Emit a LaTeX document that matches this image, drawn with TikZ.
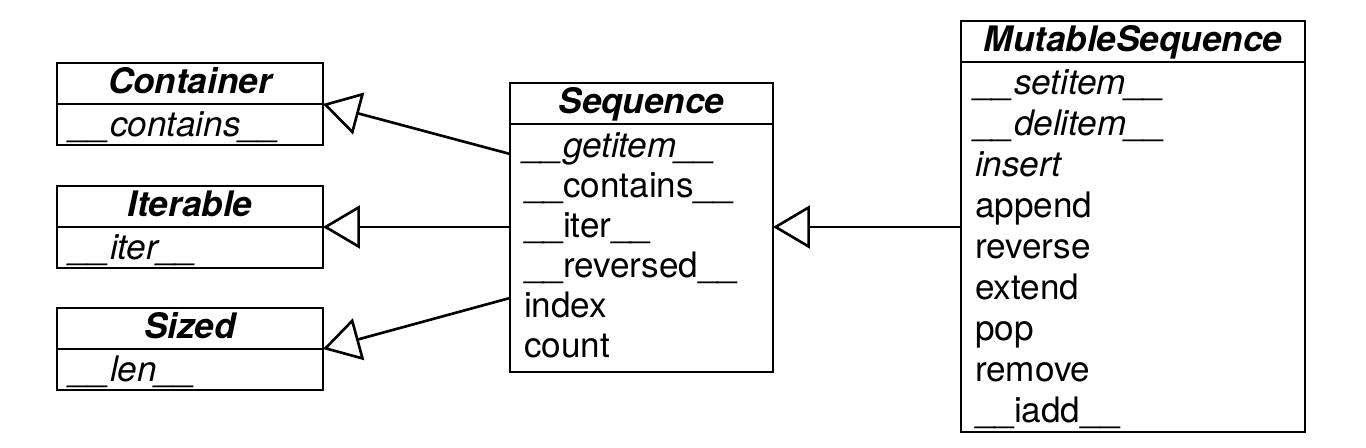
\documentclass[tikz,border=0pt]{standalone}
\usepackage{fontspec}
\setmainfont{TeX Gyre Heros}
\usetikzlibrary{arrows.meta,positioning,calc}

\begin{document}
\begin{tikzpicture}[x=0.02cm,y=-0.02cm,line width=1.4pt,
  title/.style={draw=black,anchor=north west,inner sep=0pt,outer sep=0pt,text height=0.62cm,text depth=0.2cm,
    font=\bfseries\itshape\fontsize{20pt}{24pt}\selectfont},
  body/.style={draw=black,anchor=north west,inner xsep=0.28cm,inner ysep=0pt,outer sep=0pt,align=left,
    font=\fontsize{20pt}{0.8cm}\selectfont},
  inherit/.style={-{Triangle[open,length=0.74cm,width=0.86cm]},line width=1.5pt}]
\useasboundingbox (0,0) rectangle (1366,448);

\node[title,minimum width=5.32cm] (cnt) at (57,63) {Container};
\node[body,text width=4.76cm,text height=0.66cm,text depth=0.16cm] (cntb) at (cnt.south west) {\itshape\_\_contains\_\_};

\node[title,minimum width=5.32cm] (itr) at (57,186) {Iterable};
\node[body,text width=4.76cm,text height=0.66cm,text depth=0.16cm] (itrb) at (itr.south west) {\itshape\_\_iter\_\_};

\node[title,minimum width=5.32cm] (siz) at (57,308) {Sized};
\node[body,text width=4.76cm,text height=0.66cm,text depth=0.16cm] (sizb) at (siz.south west) {\itshape\_\_len\_\_};

\node[title,minimum width=5.26cm] (seq) at (510,83) {Sequence};
\node[body,text width=4.70cm,text height=0.68cm,text depth=4.28cm] (seqb) at (seq.south west)
  {\textit{\_\_getitem\_\_}\\ \_\_contains\_\_\\ \_\_iter\_\_\\ \_\_reversed\_\_\\ index\\ count};

\node[title,minimum width=6.88cm] (mut) at (961,21) {MutableSequence};
\node[body,text width=6.32cm,text height=0.66cm,text depth=6.74cm,font=\fontsize{20pt}{0.82cm}\selectfont] (mutb) at (mut.south west)
  {\textit{\_\_setitem\_\_}\\ \textit{\_\_delitem\_\_}\\ \textit{insert}\\ append\\ reverse\\ extend\\ pop\\ remove\\ \_\_iadd\_\_};

\coordinate (s1) at ($(seqb.north west)+(0,30)$);
\coordinate (s3) at ($(seqb.north west)+(0,174)$);

\draw[inherit] (s1) -- (cnt.south east);
\draw[inherit] (seqb.west |- itr.south) -- (itr.south east);
\draw[inherit] (s3) -- (siz.south east);
\draw[inherit] (mutb.west |- itr.south) -- (seqb.east |- itr.south);
\end{tikzpicture}
\end{document}
